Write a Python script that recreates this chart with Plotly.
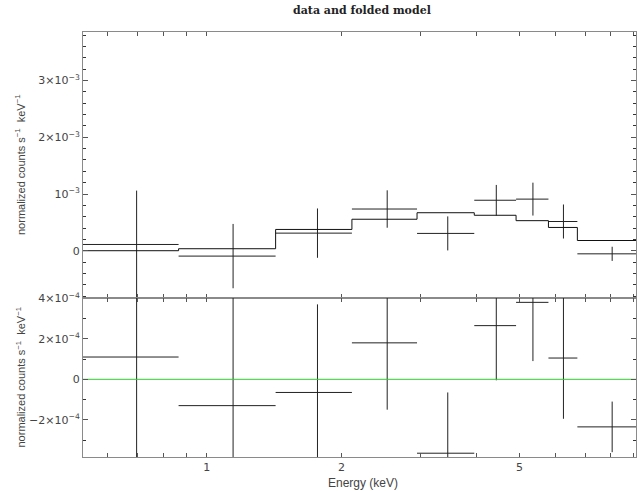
import numpy as np
import plotly.graph_objects as go
from plotly.subplots import make_subplots

# Energy bins (keV)
bin_lo = [0.529, 0.865, 1.425, 2.11, 2.95, 3.96, 4.91, 5.80, 6.73]
bin_hi = [0.865, 1.425, 2.11, 2.95, 3.96, 4.91, 5.80, 6.73, 9.37]

# Normalized counts s^-1 keV^-1
rate = [0.110e-3, -0.095e-3, 0.310e-3, 0.735e-3, 0.305e-3, 0.890e-3, 0.910e-3, 0.515e-3, -0.055e-3]
rate_err = [0.950e-3, 0.567e-3, 0.435e-3, 0.330e-3, 0.300e-3, 0.270e-3, 0.290e-3, 0.300e-3, 0.125e-3]
model = [0.000e-3, 0.035e-3, 0.375e-3, 0.555e-3, 0.670e-3, 0.625e-3, 0.530e-3, 0.410e-3, 0.180e-3]

# Tick labels
top_ticks = [0, 1e-3, 2e-3, 3e-3]
top_ticktext = ["0", "10<sup>−3</sup>", "2×10<sup>−3</sup>", "3×10<sup>−3</sup>"]
bot_ticks = [-2e-4, 0, 2e-4, 4e-4]
bot_ticktext = ["−2×10<sup>−4</sup>", "0", "2×10<sup>−4</sup>", "4×10<sup>−4</sup>"]
x_ticks = [1, 2, 5]
x_minor = [0.6, 0.7, 0.8, 0.9, 3, 4, 6, 7, 8, 9]

lo = np.array(bin_lo)
hi = np.array(bin_hi)
centre = (lo + hi) / 2
half_w = (hi - lo) / 2
resid = np.array(rate) - np.array(model)

W, H = 637, 491
L, R, T, B = 83, 1, 32, 34
split_px = 298
plot_h = H - T - B
split = (H - B - split_px) / plot_h

fig = make_subplots(rows=2, cols=1, shared_xaxes=True, vertical_spacing=0,
                    row_heights=[1 - split, split])

line_col = "#222222"
cross = dict(mode="markers", marker=dict(size=1, color="rgba(0,0,0,0)"), showlegend=False,
             hoverinfo="skip")

# data crosses
fig.add_trace(go.Scatter(
    x=centre, y=rate,
    error_x=dict(type="data", array=half_w, width=0, thickness=1, color=line_col),
    error_y=dict(type="data", array=rate_err, width=0, thickness=1, color=line_col),
    **cross), row=1, col=1)

# folded model histogram
fig.add_trace(go.Scatter(
    x=list(lo) + [hi[-1]], y=model + [model[-1]],
    mode="lines", line=dict(color="#111111", width=1, shape="hv"),
    showlegend=False, hoverinfo="skip"), row=1, col=1)

# residuals
fig.add_trace(go.Scatter(
    x=centre, y=resid,
    error_x=dict(type="data", array=half_w, width=0, thickness=1, color=line_col),
    error_y=dict(type="data", array=rate_err, width=0, thickness=1, color=line_col),
    **cross), row=2, col=1)

# zero line
fig.add_trace(go.Scatter(
    x=[lo[0] * 0.5, hi[-1] * 2], y=[0, 0], mode="lines",
    line=dict(color="#33cc33", width=1), showlegend=False, hoverinfo="skip"),
    row=2, col=1)

tick_font = dict(family="DejaVu Sans, sans-serif", size=11, color="#444444")
frame = dict(showline=True, linecolor="#8a8a8a", linewidth=1, mirror="ticks",
             ticks="inside", tickcolor="#555555", tickwidth=1, showgrid=False,
             zeroline=False, tickfont=tick_font)

# major and minor energy ticks share one array; minors carry no label
x_all = sorted(x_ticks + x_minor)
x_text = [str(v) if v in x_ticks else "" for v in x_all]

x_range = [np.log10(0.529), np.log10(9.10)]
for r in (1, 2):
    fig.update_xaxes(type="log", range=x_range, tickmode="array", tickvals=x_all,
                     ticktext=x_text, ticklen=4,
                     showticklabels=(r == 2), row=r, col=1, **frame)

fig.update_yaxes(range=[-0.834e-3, 3.857e-3], tickmode="array", tickvals=top_ticks,
                 ticktext=top_ticktext, ticklen=5,
                 minor=dict(dtick=2e-4, tick0=0, ticks="inside", ticklen=3,
                            tickcolor="#333333"),
                 row=1, col=1, **frame)
fig.update_yaxes(range=[-3.837e-4, 4.015e-4], tickmode="array", tickvals=bot_ticks,
                 ticktext=bot_ticktext, ticklen=5,
                 minor=dict(dtick=1e-4, tick0=0, ticks="inside", ticklen=3,
                            tickcolor="#333333"),
                 row=2, col=1, **frame)

ylab = "normalized counts s<sup>−1</sup>  keV<sup>−1</sup>"
lab_font = dict(family="Liberation Sans, Arial, sans-serif", size=11, color="#444444")
plot_w = W - L - R
x_lab = (20 - L) / plot_w
fig.add_annotation(text=ylab, xref="paper", yref="paper", x=x_lab, y=(split + 1) / 2,
                   textangle=-90, showarrow=False, xanchor="center", yanchor="middle",
                   font=lab_font)
fig.add_annotation(text=ylab, xref="paper", yref="paper", x=x_lab, y=split / 2,
                   textangle=-90, showarrow=False, xanchor="center", yanchor="middle",
                   font=lab_font)
fig.add_annotation(text="Energy (keV)", xref="paper", yref="paper", x=(363 - L) / plot_w,
                   y=-(483 - (H - B)) / plot_h, showarrow=False, xanchor="center",
                   yanchor="middle", font=dict(family="Liberation Sans, Arial, sans-serif",
                                               size=12, color="#444444"))
fig.add_annotation(text="<b>data and folded model</b>", xref="paper", yref="paper",
                   x=(362 - L) / plot_w, y=1 + (T - 10) / plot_h, showarrow=False,
                   xanchor="center", yanchor="middle",
                   font=dict(family="DejaVu Serif, serif", size=11, color="#222222"))

fig.update_layout(width=W, height=H, margin=dict(l=L, r=R, t=T, b=B, autoexpand=False),
                  paper_bgcolor="white", plot_bgcolor="white", showlegend=False)

fig.write_html("out.html")
